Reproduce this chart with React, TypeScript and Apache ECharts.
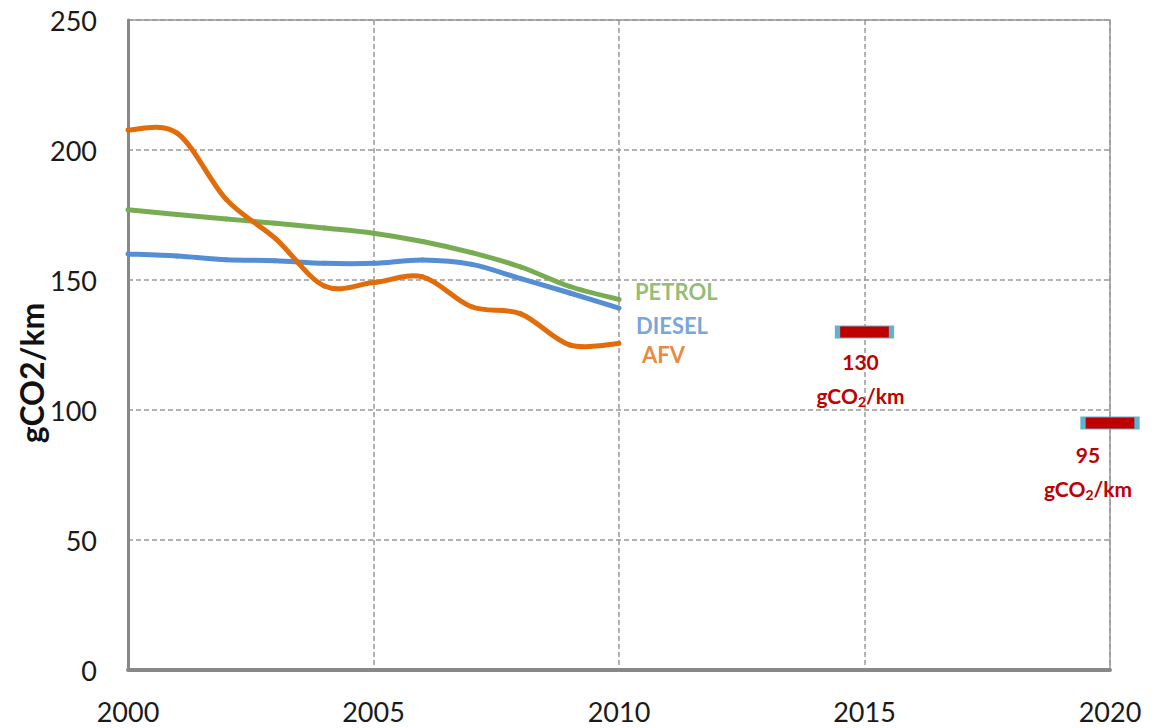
import React, { useEffect, useRef } from "react";
import * as echarts from "echarts";

const years = [2000, 2001, 2002, 2003, 2004, 2005, 2006, 2007, 2008, 2009, 2010];
const petrol = [177, 175.2, 173.5, 171.8, 170, 168, 164.8, 160.5, 155, 147.5, 142.5];
const diesel = [160, 159.2, 157.8, 157.4, 156.4, 156.4, 157.7, 156, 150.5, 145, 139.2];
const afv = [207.7, 206.5, 181, 166, 147.7, 149, 151.2, 139.7, 137, 125, 125.6];
const targets: [number, number][] = [
  [2015, 130],
  [2020, 95],
];
const xTicks = { min: 2000, max: 2020, interval: 5 };
const yTicks = { min: 0, max: 250, interval: 50 };

const FONT = "Lato, 'Open Sans', sans-serif";

export default function App() {
  const ref = useRef<HTMLDivElement>(null);
  useEffect(() => {
    const chart = echarts.init(ref.current!, null, { renderer: "svg" });
    const pair = (arr: number[]) => years.map((y, i) => [y, arr[i]]);
    const n = years.length;

    // Excel-like smooth curve (Catmull-Rom -> Bezier), positions via the axis scales (api.coord)
    const curveSeries = (name: string, data: number[], color: string) => ({
      type: "custom",
      name,
      data: pair(data),
      encode: { x: 0, y: 1 },
      clip: false,
      z: 3,
      renderItem: (params: any, api: any) => {
        const i = params.dataIndex;
        if (i >= n - 1) return null;
        const c = (j: number) => {
          const k = Math.max(0, Math.min(n - 1, j));
          return api.coord([years[k], data[k]]);
        };
        const p0 = c(i - 1);
        const p1 = c(i);
        const p2 = c(i + 1);
        const p3 = c(i + 2);
        return {
          type: "bezierCurve",
          shape: {
            x1: p1[0],
            y1: p1[1],
            cpx1: p1[0] + (p2[0] - p0[0]) / 6,
            cpy1: p1[1] + (p2[1] - p0[1]) / 6,
            cpx2: p2[0] - (p3[0] - p1[0]) / 6,
            cpy2: p2[1] - (p3[1] - p1[1]) / 6,
            x2: p2[0],
            y2: p2[1],
          },
          style: { stroke: color, lineWidth: 5, fill: null, lineCap: "round" },
        };
      },
    });

    const endLabel = (name: string, data: number[], color: string, dist: number, dy: number) => ({
      type: "scatter",
      name: name + "-label",
      data: [[years[n - 1], data[n - 1]]],
      symbolSize: 0,
      silent: true,
      z: 5,
      label: {
        show: true,
        position: "right",
        distance: dist,
        offset: [0, dy],
        formatter: name,
        color,
        fontFamily: FONT,
        fontWeight: "bold",
        fontSize: 22,
      },
    });

    const rich = {
      a: { color: "#C00000", fontFamily: FONT, fontWeight: "bold", fontSize: 21, lineHeight: 34 },
      s: { color: "#C00000", fontFamily: FONT, fontWeight: "bold", fontSize: 14, lineHeight: 34, padding: [12, 0, 0, 0] },
    };
    chart.setOption({
      animation: false,
      grid: {
        left: 128,
        top: 20,
        width: 982,
        height: 650,
        show: true,
        borderColor: "#999",
        borderWidth: 1.5,
        backgroundColor: "transparent",
      },
      xAxis: {
        type: "value",
        min: xTicks.min,
        max: xTicks.max,
        interval: xTicks.interval,
        axisLine: { show: true, onZero: false, lineStyle: { color: "#888", width: 4 } },
        axisTick: { show: false },
        axisLabel: { margin: 28, color: "#1a1a1a", fontFamily: FONT, fontSize: 27, formatter: (v: number) => String(v) },
        splitLine: { show: true, lineStyle: { color: "#999", type: [5, 3], width: 1.5 } },
      },
      yAxis: {
        type: "value",
        min: yTicks.min,
        max: yTicks.max,
        interval: yTicks.interval,
        axisLine: { show: true, lineStyle: { color: "#888", width: 3 } },
        axisTick: { show: false },
        axisLabel: { margin: 31, color: "#1a1a1a", fontFamily: FONT, fontSize: 27 },
        splitLine: { show: true, lineStyle: { color: "#999", type: [5, 3], width: 1.5 } },
      },
      graphic: [
        {
          type: "text",
          x: 31,
          y: 373,
          rotation: Math.PI / 2,
          style: {
            text: "gCO2/km",
            fill: "#111",
            font: `bold 32px ${FONT}`,
            align: "center",
            verticalAlign: "middle",
          },
        },
      ],
      series: [
        curveSeries("PETROL", petrol, "#77AC52"),
        curveSeries("DIESEL", diesel, "#558ED5"),
        curveSeries("AFV", afv, "#E36C0A"),
        endLabel("PETROL", petrol, "#77AC52", 16, -8),
        endLabel("DIESEL", diesel, "#558ED5", 17, 17),
        endLabel("AFV", afv, "#E36C0A", 23, 11),
        {
          type: "scatter",
          clip: false,
          symbol: "rect",
          symbolSize: [54, 12],
          itemStyle: { color: "#C00000", borderColor: "#5FB3CF", borderWidth: 2.5, opacity: 1 },
          data: targets.map((t, i) => ({
            value: t,
            label: {
              show: true,
              position: "bottom",
              distance: 6,
              offset: i === 0 ? [-4, 0] : [-22, 2],
              align: "center",
              formatter: `{a|${t[1]}}\n{a|gCO}{s|2}{a|/km}`,
              rich,
            },
          })),
          z: 4,
        },
      ],
    });
    return () => chart.dispose();
  }, []);
  return (
    <div
      ref={ref}
      style={{ position: "absolute", left: 0, top: 0, width: 1157, height: 728, background: "#fff" }}
    />
  );
}
